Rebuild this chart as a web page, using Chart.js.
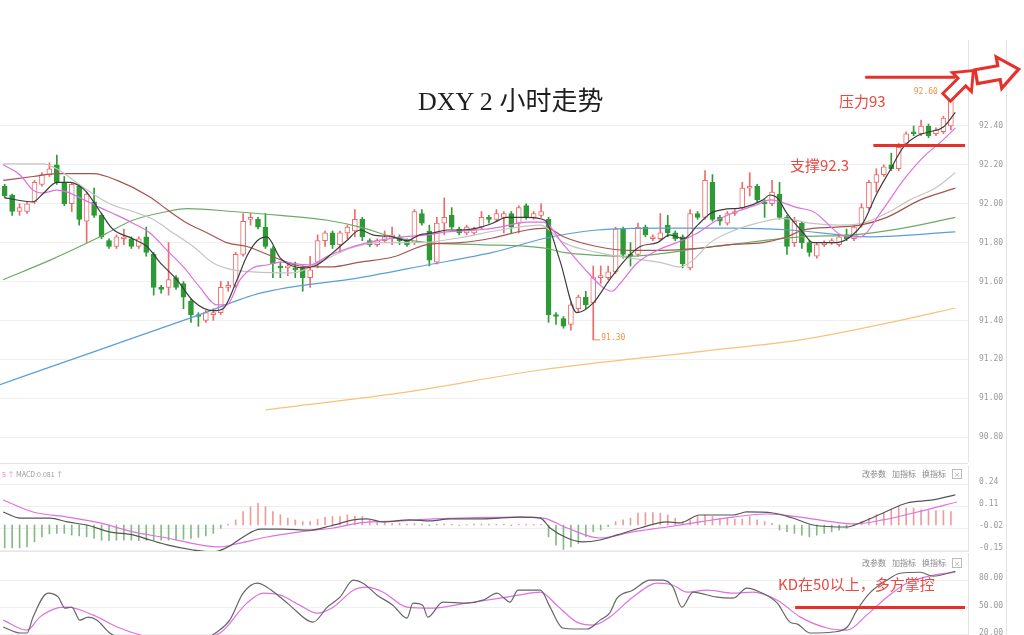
<!DOCTYPE html>
<html>
<head>
<meta charset="utf-8">
<script src="https://cdn.jsdelivr.net/npm/chart.js@4.4.1/dist/chart.umd.min.js"></script>
<style>
  html, body { margin: 0; padding: 0; background: #fff; width: 1024px; height: 635px; overflow: hidden; }
  body { position: relative; font-family: "Noto Sans CJK SC", "Noto Sans", sans-serif; }
  canvas { position: absolute; left: 0; }
  #main { top: 40px; }
  #macd { top: 466px; }
  #kd { top: 553px; }
  #title { position: absolute; left: 418px; top: 84px; font-size: 26px; line-height: 30px; color: #1e1e1e; white-space: nowrap; }
  #title .lat { font-family: "Liberation Serif", serif; }
  .note { position: absolute; color: #e84a43; white-space: nowrap; line-height: 18px; }
  .tools { position: absolute; left: 862px; font-size: 8px; line-height: 10px; color: #8a8a8a; white-space: nowrap; }
  .tools span { margin-right: 6px; }
  .tools .x { display: inline-block; width: 8px; height: 8px; border: 1px solid #bbb; font-size: 7px; line-height: 8px; text-align: center; color: #999; margin: 0; }
  .sep { position: absolute; left: 0; width: 968px; height: 1px; background: #e6e6e6; }
  .vline { position: absolute; left: 1006px; top: 40px; width: 1px; height: 595px; background: #e4e4e4; }
  #macdHead { position: absolute; left: 2px; top: 470px; font-size: 7px; line-height: 9px; color: #999; white-space: nowrap; }
  #macdHead b { font-weight: normal; color: #e070e0; }
  svg { position: absolute; left: 0; top: 0; pointer-events: none; }
</style>
</head>
<body>
<canvas id="main" width="1024" height="422"></canvas>
<canvas id="macd" width="1024" height="94"></canvas>
<canvas id="kd" width="1024" height="127"></canvas>

<div class="sep" style="top:463px"></div>
<div class="sep" style="top:551px"></div>
<div class="vline"></div>

<div id="title"><span class="lat">DXY 2 </span>小时走势</div>
<div class="note" style="left:839px;top:92px;font-size:15px">压力93</div>
<div class="note" style="left:790px;top:156px;font-size:15px">支撑92.3</div>
<div class="note" style="left:778px;top:575px;font-size:15px">KD在50以上，多方掌控</div>

<div id="macdHead"><b>5 ↑</b> MACD:0.081 ↑</div>
<div class="tools" style="top:469px"><span>改参数</span><span>加指标</span><span>换指标</span><span class="x">×</span></div>
<div class="tools" style="top:558px"><span>改参数</span><span>加指标</span><span>换指标</span><span class="x">×</span></div>

<svg width="1024" height="635">
  <g transform="translate(960,84) rotate(-45) scale(0.9)">
    <polygon points="-21,-6 3,-6 3,-15 21,0 3,15 3,6 -21,6" fill="#fff" stroke="#e8302a" stroke-width="3.2"/>
  </g>
  <g transform="translate(997,73) rotate(-10)">
    <polygon points="-21,-7 2,-7 2,-16 22,0 2,16 2,7 -21,7" fill="#fff" stroke="#e8302a" stroke-width="3.2"/>
  </g>
</svg>

<script>
// 2h candles, oldest first
const opens = [
  92.09, 92.045, 91.96, 91.96, 92.01, 92.10, 92.15, 92.20, 92.11, 92.00,
  92.09, 91.91, 92.01, 91.94, 91.81, 91.78, 91.82, 91.82, 91.78, 91.83,
  91.74, 91.57, 91.57, 91.62, 91.59, 91.50, 91.43, 91.40, 91.43, 91.44,
  91.57, 91.58, 91.74, 91.92, 91.92, 91.88, 91.77, 91.68, 91.67, 91.67,
  91.67, 91.62, 91.70, 91.81, 91.85, 91.79, 91.85, 91.86, 91.92, 91.81,
  91.79, 91.81, 91.82, 91.83, 91.81, 91.80, 91.95, 91.86, 91.70, 91.90,
  91.94, 91.87, 91.85, 91.85, 91.88, 91.93, 91.92, 91.93, 91.95, 91.90,
  91.99, 91.93, 91.94, 91.92, 91.43, 91.41, 91.38, 91.46, 91.52, 91.49,
  91.62, 91.62, 91.65, 91.87, 91.74, 91.74, 91.88, 91.82, 91.82, 91.89,
  91.85, 91.83, 91.67, 91.95, 91.93, 92.11, 91.93, 91.90, 91.95, 91.98,
  92.08, 92.09, 92.01, 92.00, 92.05, 91.93, 91.80, 91.90, 91.80, 91.73,
  91.79, 91.80, 91.79, 91.84, 91.82, 91.89, 91.98, 92.11, 92.15, 92.20,
  92.18, 92.31, 92.37, 92.36, 92.40, 92.36, 92.37, 92.40
];
const highs = [
  92.10, 92.05, 92.00, 92.01, 92.12, 92.16, 92.21, 92.25, 92.14, 92.11,
  92.10, 92.06, 92.08, 91.95, 91.82, 91.84, 91.87, 91.83, 91.83, 91.88,
  91.75, 91.58, 91.80, 91.63, 91.60, 91.51, 91.44, 91.45, 91.46, 91.60,
  91.60, 91.75, 91.95, 91.95, 91.93, 91.95, 91.78, 91.70, 91.70, 91.70,
  91.68, 91.73, 91.84, 91.86, 91.86, 91.86, 91.89, 91.97, 91.93, 91.82,
  91.82, 91.86, 91.88, 91.84, 91.82, 91.97, 91.97, 91.89, 91.93, 92.03,
  91.98, 91.88, 91.89, 91.88, 91.96, 91.94, 91.97, 91.96, 91.96, 91.99,
  92.00, 91.96, 92.00, 91.93, 91.44, 91.42, 91.49, 91.53, 91.55, 91.68,
  91.68, 91.68, 91.88, 91.88, 91.80, 91.90, 91.89, 91.84, 91.95, 91.94,
  91.86, 91.84, 91.97, 91.96, 92.17, 92.15, 91.94, 91.96, 91.97, 92.11,
  92.16, 92.10, 92.02, 92.12, 92.11, 91.94, 91.93, 91.91, 91.81, 91.80,
  91.81, 91.82, 91.84, 91.87, 91.89, 92.00, 92.12, 92.18, 92.20, 92.26,
  92.31, 92.37, 92.40, 92.43, 92.41, 92.39, 92.45, 92.60
];
const lows = [
  92.03, 91.94, 91.94, 91.95, 92.00, 92.09, 92.14, 92.10, 91.99, 91.96,
  91.89, 91.80, 91.93, 91.82, 91.77, 91.77, 91.79, 91.77, 91.77, 91.73,
  91.53, 91.54, 91.53, 91.56, 91.46, 91.39, 91.37, 91.39, 91.40, 91.43,
  91.55, 91.57, 91.73, 91.89, 91.87, 91.77, 91.62, 91.62, 91.63, 91.62,
  91.55, 91.57, 91.67, 91.78, 91.77, 91.75, 91.82, 91.83, 91.81, 91.78,
  91.78, 91.80, 91.79, 91.79, 91.78, 91.79, 91.89, 91.68, 91.69, 91.84,
  91.87, 91.84, 91.84, 91.84, 91.87, 91.90, 91.91, 91.85, 91.85, 91.85,
  91.92, 91.92, 91.93, 91.39, 91.38, 91.36, 91.35, 91.44, 91.46, 91.30,
  91.59, 91.61, 91.64, 91.72, 91.68, 91.73, 91.83, 91.81, 91.81, 91.83,
  91.81, 91.67, 91.66, 91.92, 91.92, 91.91, 91.89, 91.89, 91.94, 91.97,
  92.04, 92.01, 91.93, 91.99, 91.92, 91.74, 91.78, 91.77, 91.73, 91.72,
  91.78, 91.79, 91.78, 91.81, 91.81, 91.88, 91.97, 92.06, 92.14, 92.17,
  92.17, 92.30, 92.35, 92.35, 92.34, 92.35, 92.36, 92.38
];
const closes = [
  92.04, 91.96, 91.98, 92.00, 92.11, 92.15, 92.18, 92.11, 92.00, 92.10,
  91.92, 92.05, 91.94, 91.83, 91.78, 91.83, 91.83, 91.78, 91.82, 91.75,
  91.57, 91.56, 91.61, 91.57, 91.52, 91.43, 91.42, 91.44, 91.44, 91.57,
  91.58, 91.74, 91.91, 91.93, 91.88, 91.78, 91.69, 91.67, 91.68, 91.66,
  91.62, 91.66, 91.81, 91.85, 91.79, 91.85, 91.88, 91.92, 91.83, 91.79,
  91.81, 91.83, 91.84, 91.81, 91.79, 91.96, 91.90, 91.71, 91.90, 91.93,
  91.88, 91.85, 91.88, 91.87, 91.93, 91.92, 91.95, 91.95, 91.88, 91.98,
  91.93, 91.95, 91.96, 91.43, 91.42, 91.37, 91.48, 91.52, 91.48, 91.62,
  91.63, 91.65, 91.87, 91.74, 91.73, 91.88, 91.84, 91.83, 91.85, 91.85,
  91.82, 91.69, 91.95, 91.93, 92.12, 91.92, 91.91, 91.95, 91.96, 92.08,
  92.09, 92.02, 92.00, 92.06, 91.93, 91.78, 91.91, 91.80, 91.75, 91.79,
  91.80, 91.81, 91.83, 91.82, 91.88, 91.98, 92.11, 92.15, 92.19, 92.18,
  92.29, 92.36, 92.36, 92.40, 92.35, 92.38, 92.44, 92.57
];

// moving averages as [candle index, value]
const ma5 = [[0,92.03],[3.8,92.01],[5.1,92.05],[7,92.11],[8.8,92.11],[10.1,92.09],[11,92.06],[12.8,91.96],[14.5,91.87],[17.2,91.82],[19.1,91.78],[20.8,91.70],[23.1,91.61],[25.3,91.50],[28,91.45],[29.3,91.46],[31.2,91.61],[32.5,91.73],[33.9,91.81],[35.2,91.83],[37,91.72],[40,91.67],[41.9,91.685],[44.1,91.75],[45.9,91.81],[47.7,91.865],[49.4,91.84],[52.1,91.83],[54,91.81],[55.7,91.84],[57.5,91.85],[59.4,91.865],[61.1,91.865],[63.4,91.875],[65.5,91.90],[67.4,91.93],[70.1,91.93],[72.5,91.915],[74.5,91.71],[76.8,91.44],[79,91.49],[81.2,91.61],[83.5,91.72],[85.3,91.78],[87.6,91.80],[89.3,91.84],[91.1,91.82],[93,91.89],[94.7,91.95],[96.4,91.97],[99.1,91.98],[101.8,92.02],[102.7,92.045],[103.7,92.03],[105,91.95],[107.2,91.85],[108.5,91.80],[111.7,91.80],[113.5,91.83],[115.2,91.90],[117.1,92.055],[118.8,92.17],[120.6,92.29],[122.5,92.35],[124.2,92.37],[126,92.395],[127.6,92.47]];
const ma10 = [[-0.2,92.20],[2,92.15],[3.8,92.07],[5.1,92.055],[7,92.07],[8.4,92.06],[10.1,92.03],[12.8,91.98],[15.1,91.94],[17.2,91.90],[19.5,91.85],[21.8,91.76],[24,91.675],[26.2,91.57],[28.5,91.48],[29.8,91.48],[31.6,91.61],[33.3,91.67],[35.2,91.685],[37,91.70],[41,91.685],[43.3,91.73],[46,91.77],[47.7,91.79],[50,91.81],[53.5,91.83],[56.7,91.84],[59.4,91.855],[63.4,91.865],[66.5,91.88],[70.1,91.905],[72.3,91.905],[75,91.79],[77.6,91.675],[80.3,91.57],[81.5,91.55],[82.6,91.59],[84.9,91.695],[87.6,91.76],[90.2,91.80],[93,91.85],[95.6,91.915],[98.3,91.96],[101,91.995],[102.7,92.02],[106.4,91.98],[108.5,91.96],[113.1,91.83],[114.8,91.83],[117.5,91.95],[120.6,92.12],[123.3,92.24],[126,92.33],[127.6,92.39]];
const ma20 = [[-0.2,92.205],[5.1,92.205],[7,92.18],[10.5,92.085],[14.1,92.00],[17.2,91.96],[19.9,91.92],[22.6,91.85],[25.3,91.78],[28,91.695],[30.6,91.66],[33.3,91.65],[38.7,91.645],[42.3,91.70],[46.3,91.77],[50.4,91.80],[55.7,91.80],[61.1,91.825],[66.5,91.865],[71.9,91.89],[75,91.80],[79.5,91.75],[84,91.72],[88.4,91.695],[90.6,91.675],[92.4,91.71],[94.7,91.80],[97.4,91.855],[101,91.90],[104.5,91.925],[108.1,91.90],[112.1,91.89],[115.2,91.90],[118.8,91.96],[121.5,92.02],[125.1,92.085],[127.6,92.16]];
const ma30 = [[-0.2,92.12],[3.8,92.14],[7,92.155],[11.9,92.155],[15.1,92.12],[19.5,92.035],[21.8,91.97],[24.5,91.90],[27.2,91.85],[29.8,91.80],[32.5,91.78],[36.5,91.72],[39.6,91.68],[43.7,91.675],[47.7,91.70],[52.1,91.726],[56.7,91.79],[61.1,91.80],[65.5,91.824],[70.1,91.865],[72.8,91.875],[75,91.83],[79.5,91.78],[84,91.76],[88.4,91.76],[93,91.77],[97.4,91.79],[101.8,91.80],[105,91.83],[107.2,91.865],[111.7,91.88],[114.8,91.89],[118.4,91.93],[122.9,92.02],[127.6,92.08]];
const ma60 = [[-0.2,91.61],[6.1,91.71],[12.8,91.83],[17.2,91.915],[21.8,91.96],[24.5,91.975],[30.6,91.96],[37,91.94],[43.3,91.915],[47.7,91.88],[52.1,91.83],[56.7,91.80],[63.8,91.79],[72.8,91.77],[75,91.75],[79.5,91.735],[84,91.73],[88.4,91.745],[93,91.77],[97.4,91.79],[101.8,91.81],[106.8,91.83],[113.9,91.84],[120.6,91.875],[127.6,91.93]];
const ma120 = [[-0.63,91.07],[12.8,91.25],[26.2,91.43],[34.3,91.54],[47.7,91.62],[56.7,91.685],[65.5,91.75],[72.8,91.825],[79.5,91.865],[88.4,91.875],[97.4,91.875],[105.4,91.865],[116.1,91.83],[127.6,91.855]];
const ma250 = [[35,90.94],[53.1,91.027],[71.9,91.145],[93.3,91.24],[106.8,91.30],[120.2,91.40],[127.6,91.464]];

// drawn levels
const resistance = [[115.5,92.65],[127.6,92.65]];
const support = [[116.6,92.30],[128.9,92.30]];
const kdLevel = [[106.1,50],[128.9,50]];

const priceTicks = [90.8, 91.0, 91.2, 91.4, 91.6, 91.8, 92.0, 92.2, 92.4];
const macdTicks = [-0.15, -0.02, 0.11, 0.24];
const kdTicks = [20, 50, 80];

const macdHist = [
  -0.136, -0.136, -0.136, -0.13, -0.10, -0.07, -0.053, -0.05, -0.05, -0.06,
  -0.065, -0.07, -0.08, -0.09, -0.093, -0.09, -0.09, -0.09, -0.093, -0.09,
  -0.09, -0.09, -0.09, -0.09, -0.085, -0.08, -0.073, -0.065, -0.05, -0.02,
  0.005, 0.03, 0.08, 0.108, 0.128, 0.108, 0.08, 0.06, 0.04, 0.03,
  0.02, 0.02, 0.034, 0.045, 0.05, 0.05, 0.06, 0.053, 0.05, 0.03,
  0.02, 0.015, 0.01, 0.01, 0.005, 0.008, 0.005, -0.004, 0.005, 0.006,
  0.004, -0.003, 0.003, 0.005, 0.006, 0.005, 0.004, 0.005, -0.003, 0.004,
  0.005, 0.004, 0.004, -0.07, -0.12, -0.145, -0.13, -0.11, -0.07, -0.04,
  -0.03, -0.01, 0.02, 0.03, 0.04, 0.07, 0.073, 0.073, 0.07, 0.06,
  0.04, 0.02, 0.03, 0.05, 0.06, 0.05, 0.04, 0.04, 0.034, 0.034,
  0.05, 0.03, 0.02, 0.01, -0.03, -0.04, -0.05, -0.06, -0.07, -0.06,
  -0.05, -0.04, -0.03, -0.02, 0.01, 0.02, 0.04, 0.06, 0.07, 0.09,
  0.11, 0.10, 0.10, 0.09, 0.085, 0.085, 0.085, 0.08
];
const dif = [[-0.2,0.077],[2.1,0.041],[6.1,0.041],[8.4,0.018],[11,0],[14.1,-0.041],[17.2,-0.059],[19.5,-0.089],[21.8,-0.118],[25.3,-0.148],[28,-0.16],[30.2,-0.124],[32,-0.071],[34.3,-0.024],[37.4,-0.024],[41,-0.03],[43.7,-0.006],[46.8,0.03],[48.6,0.036],[50.8,0.018],[54.4,0.03],[57.1,0.024],[59.8,0.036],[64.2,0.036],[69.2,0.047],[71.9,0.041],[73.2,-0.018],[75.5,-0.077],[77.6,-0.1],[79.9,-0.089],[82.2,-0.059],[85.3,-0.018],[88.9,0.018],[90.6,0.012],[93.3,0.059],[97.8,0.059],[99.6,0.077],[103.1,0.071],[105.8,0.041],[108.5,0],[113.1,-0.012],[114.8,0.012],[117.9,0.071],[121.1,0.13],[124.6,0.148],[127.6,0.178]];
const dea = [[-0.2,0.148],[3.8,0.077],[8.4,0.047],[12.8,0.012],[17.2,-0.041],[21.8,-0.077],[26.2,-0.118],[28.9,-0.13],[31.6,-0.107],[35.2,-0.071],[39.6,-0.041],[44.1,-0.018],[47.7,0.012],[53.1,0.024],[57.5,0.036],[69.2,0.047],[72.3,0.041],[75.5,-0.018],[79.9,-0.077],[84.3,-0.041],[88.9,-0.012],[93.3,0.018],[97.8,0.047],[102.3,0.065],[106.8,0.047],[111.2,0.018],[113.9,0.006],[117.9,0.03],[122.5,0.077],[127.8,0.136]];

const kLine = [[-0.2,28.4],[2.1,21.8],[3,21.8],[3.8,39.3],[5.8,65.7],[7.2,61.3],[8.1,49.2],[9,50.3],[10.1,36],[11.2,39.3],[12.4,36],[14.1,21.8],[17,12],[22,8],[26,12],[28.5,22.9],[30.2,36],[32,65.7],[33.9,76.7],[35.2,72.3],[37,61.3],[38.7,49.2],[40.6,36],[41.4,33.8],[43.3,50.3],[45,61.3],[46.8,80],[48.1,76.7],[50,63.5],[52.1,52.5],[54,38.2],[54.8,54.7],[56.1,52.5],[56.8,39.3],[58.8,55.8],[62,54.7],[64.2,58],[66.1,65.7],[66.9,61.3],[67.8,55.8],[68.9,69],[71.9,69],[73.2,50.3],[74.9,27.3],[76.8,26.2],[78.2,26.2],[79.9,36],[81.2,43.7],[82.2,60.2],[84.3,69],[86.6,80],[88.4,80],[89.7,72.3],[90.9,50.3],[92.4,66.8],[93.3,65.7],[95.6,61.3],[97.8,60.2],[99.6,71.2],[101.4,66.8],[103.7,54.7],[105.4,33.8],[106.4,31.6],[108.1,21.8],[111.2,22.9],[113.1,28.4],[114.4,47],[116.1,65.7],[118.4,80],[120.2,87.7],[122.9,88.8],[124.6,84.4],[127.6,89.9]];
const dLine = [[-0.2,36],[3,25],[4.7,39.3],[7,49.2],[8.4,50.3],[11.9,41.5],[15.1,28.4],[18.2,19.6],[21,15],[25,15],[28.9,21.8],[32.5,54.7],[34.7,65.7],[37,63.5],[39.6,52.5],[41.9,43.7],[44.1,50.3],[46.8,69],[48.6,72.3],[50.8,66.8],[54,50.3],[57.5,49.2],[62,54.7],[66.5,60.2],[68.9,63.5],[71.9,66.8],[74.1,52.5],[76.8,33.8],[79,30.5],[81.2,39.3],[84.3,61.3],[87.6,76.7],[89.7,74.5],[91.6,66.8],[94.3,69],[97.8,65.7],[100.4,66.8],[103.7,58],[106.8,39.3],[110.4,27.3],[113.1,25],[115.7,41.5],[118.4,61.3],[121.1,76.7],[124.6,85.5],[127.6,88.8]];

const X_MIN = -0.63, X_MAX = 129.3;
const RED = '#ee6b6b', GREEN = '#2e9a35';
Chart.defaults.font.family = 'DejaVu Sans Mono';

const idx = opens.map((_, i) => i);
const isUp = i => closes[i] >= opens[i];

function line(pts, color, width) {
    return {
        type: 'line',
        data: pts.map(([x, y]) => ({ x, y })),
        borderColor: color,
        borderWidth: width || 1.2,
        pointRadius: 0,
        cubicInterpolationMode: 'monotone',
        order: 1
    };
}

function levelLine(pts, color) {
    return { type: 'line', data: pts.map(([x, y]) => ({ x, y })), borderColor: color, borderWidth: 3, pointRadius: 0, order: 0 };
}

function makeOptions(yMin, yMax, ticks, padBottom, labelShift) {
    return {
        responsive: false,
        animation: false,
        events: [],
        layout: { padding: { bottom: padBottom || 0 } },
        plugins: { legend: { display: false }, tooltip: { enabled: false } },
        scales: {
            x: { type: 'linear', min: X_MIN, max: X_MAX, display: false, offset: false },
            y: {
                position: 'right',
                min: yMin,
                max: yMax,
                afterBuildTicks: s => { s.ticks = ticks.map(v => ({ value: v })); },
                afterFit: s => { s.width = 56; s.paddingTop = 0; s.paddingBottom = 0; },
                grid: { color: '#efefef', drawTicks: false },
                border: { color: '#e2e2e2' },
                ticks: { padding: 11, labelOffset: labelShift || 0, color: '#9a9a9a', font: { size: 8 }, callback: v => v.toFixed(2) }
            }
        }
    };
}

// marks the highest high and the lowest low
const extremes = {
    id: 'extremes',
    afterDatasetsDraw(chart) {
        const { ctx, scales: { x, y } } = chart;
        const hi = Math.max(...highs), lo = Math.min(...lows);
        const hx = x.getPixelForValue(highs.indexOf(hi)), hy = y.getPixelForValue(hi);
        const lx = x.getPixelForValue(lows.indexOf(lo)), ly = y.getPixelForValue(lo);
        ctx.save();
        ctx.font = '8px "DejaVu Sans Mono"';
        ctx.fillStyle = ctx.strokeStyle = '#f0904a';
        ctx.lineWidth = 1;
        ctx.textBaseline = 'middle';
        ctx.beginPath();
        ctx.moveTo(lx, ly); ctx.lineTo(lx + 7, ly);
        ctx.stroke();
        ctx.textAlign = 'left';
        ctx.fillText(lo.toFixed(2), lx + 8, ly - 2);
        ctx.textAlign = 'right';
        ctx.fillText(hi.toFixed(2), hx - 13, hy + 5);
        ctx.restore();
    }
};

new Chart(document.getElementById('main'), {
    type: 'bar',
    data: {
        datasets: [
            levelLine(resistance, '#e8302a'),
            levelLine(support, '#e8302a'),
            line(ma5, '#3d3d3d'),
            line(ma10, '#e070e0'),
            line(ma20, '#c4c4c4'),
            line(ma30, '#a5544f'),
            line(ma60, '#6cab66'),
            line(ma120, '#5a9fd8'),
            line(ma250, '#f7c27a'),
            {
                type: 'bar',
                data: idx.map(i => ({ x: i, y: [opens[i], closes[i]] })),
                backgroundColor: c => isUp(c.dataIndex) ? '#ffffff' : GREEN,
                borderColor: c => isUp(c.dataIndex) ? RED : GREEN,
                borderWidth: 1,
                borderSkipped: false,
                barThickness: 5,
                grouped: false,
                order: 2
            },
            {
                type: 'bar',
                data: idx.map(i => ({ x: i, y: [lows[i], highs[i]] })),
                backgroundColor: c => isUp(c.dataIndex) ? RED : GREEN,
                barThickness: 1,
                grouped: false,
                order: 3
            }
        ]
    },
    options: makeOptions(90.672, 92.842, priceTicks),
    plugins: [extremes]
});

new Chart(document.getElementById('macd'), {
    type: 'bar',
    data: {
        datasets: [
            line(dif, '#555555'),
            line(dea, '#e070e0'),
            {
                type: 'bar',
                data: idx.map(i => ({ x: i, y: macdHist[i] })),
                backgroundColor: c => macdHist[c.dataIndex] >= 0 ? '#f19a9a' : '#84bb84',
                barThickness: 1,
                grouped: false,
                order: 2
            }
        ]
    },
    options: makeOptions(-0.154, 0.349, macdTicks, 9, -2)
});

new Chart(document.getElementById('kd'), {
    type: 'bar',
    data: {
        datasets: [
            levelLine(kdLevel, '#e8302a'),
            line(kLine, '#666666'),
            line(dLine, '#e070e0')
        ]
    },
    options: makeOptions(-30, 110, kdTicks, 0, -2)
});
</script>
</body>
</html>
